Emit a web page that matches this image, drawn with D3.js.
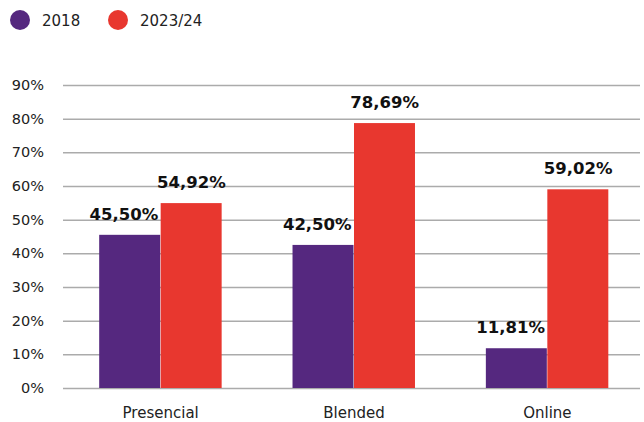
<!DOCTYPE html>
<html>
<head>
<meta charset="utf-8">
<script src="https://cdn.jsdelivr.net/npm/d3@7"></script>
<style>
  html, body { margin: 0; padding: 0; background: #fff; }
  svg { display: block; }
</style>
</head>
<body>
<svg id="chart" width="644" height="422"></svg>
<script>
// Share of courses by modality, 2018 vs 2023/24
const categories = ["Presencial", "Blended", "Online"];
const seriesNames = ["2018", "2023/24"];
const values2018 = [45.50, 42.50, 11.81];
const values2023 = [54.92, 78.69, 59.02];
const yTicks = [0, 10, 20, 30, 40, 50, 60, 70, 80, 90];

const colors = ["#55287F", "#E8372F"];
const font = "'DejaVu Sans', 'Noto Sans', sans-serif";

const svg = d3.select("#chart");
const margin = { left: 63, right: 4, top: 85, bottom: 34 };
const W = 644, H = 422;

const y = d3.scaleLinear().domain([0, 90]).range([H - margin.bottom, margin.top]);
const x0 = d3.scaleBand().domain(categories)
  .range([64, 644])
  .paddingInner(0.364).paddingOuter(0.182);
const x1 = d3.scaleBand().domain(seriesNames).range([0, x0.bandwidth()]).padding(0);

const rows = categories.map((c, i) => ({
  cat: c,
  vals: [
    { s: seriesNames[0], v: values2018[i] },
    { s: seriesNames[1], v: values2023[i] }
  ]
}));

// grid lines and y labels
const yAxis = d3.axisLeft(y).tickValues(yTicks)
  .tickSize(-(W - margin.right - margin.left))
  .tickPadding(19)
  .tickFormat(d => d + "%");
const gy = svg.append("g").attr("transform", `translate(${margin.left},0)`).call(yAxis);
gy.select(".domain").remove();
gy.selectAll(".tick line").attr("stroke", "#ababab").attr("stroke-width", 1.5);
gy.selectAll(".tick text").attr("fill", "#222").style("font-family", font)
  .style("font-size", "14.5px");

// bars
const groups = svg.append("g").selectAll("g").data(rows).join("g")
  .attr("transform", d => `translate(${x0(d.cat)},0)`);
groups.selectAll("rect").data(d => d.vals).join("rect")
  .attr("x", d => x1(d.s))
  .attr("y", d => y(d.v))
  .attr("width", x1.bandwidth() - 0.5)
  .attr("height", d => y(0) - y(d.v))
  .attr("fill", (d, i) => colors[i]);

// value labels
const fmt = v => v.toFixed(2).replace(".", ",") + "%";
groups.selectAll("text.val").data(d => d.vals).join("text")
  .attr("class", "val")
  .attr("x", (d, i) => x1(d.s) + x1.bandwidth() / 2 + (i === 0 ? -6 : 0))
  .attr("y", d => y(d.v) - 15)
  .attr("text-anchor", "middle")
  .attr("fill", "#111")
  .style("font-family", font).style("font-weight", "bold").style("font-size", "16.5px")
  .text(d => fmt(d.v));

// category axis labels
const xAxis = d3.axisBottom(x0).tickSize(0).tickPadding(19);
const gx = svg.append("g").attr("transform", `translate(0,${y(0)})`).call(xAxis);
gx.select(".domain").remove();
gx.selectAll(".tick text").attr("fill", "#222").style("font-family", font)
  .style("font-size", "15px");

// legend
const legend = svg.append("g");
const legX = [20, 118];
seriesNames.forEach((s, i) => {
  const g = legend.append("g").attr("transform", `translate(${legX[i]},20)`);
  g.append("circle").attr("r", 10).attr("fill", colors[i]);
  g.append("text").attr("x", 22).attr("y", 5.5)
    .attr("fill", "#222").style("font-family", font).style("font-size", "15px").text(s);
});
</script>
</body>
</html>
